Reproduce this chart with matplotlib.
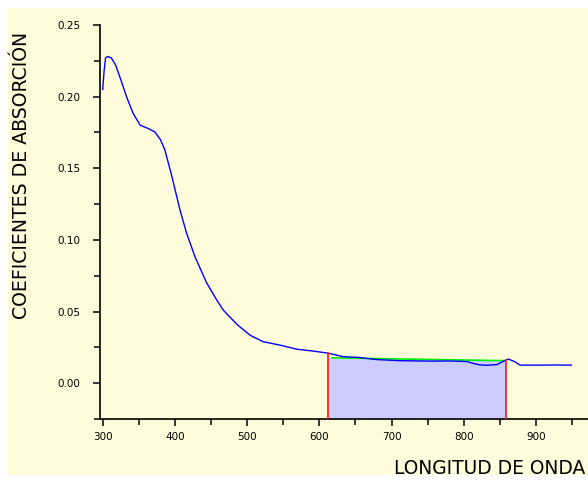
import numpy as np
import matplotlib
matplotlib.use("Agg")
import matplotlib.pyplot as plt
from matplotlib.ticker import MultipleLocator, FormatStrFormatter
from matplotlib.patches import Rectangle

# Data
wavelength = [300, 302, 304, 307, 312, 318, 325, 333, 342, 352, 362, 372, 380, 386,
              395, 407, 416, 428, 444, 458, 467, 486, 504, 522, 546, 569, 590, 612,
              633, 654, 679, 712, 740, 758, 780, 795, 805, 813, 822, 832, 846, 855,
              862, 871, 878, 906, 930, 949]
absorption = [0.205, 0.218, 0.227, 0.228, 0.227, 0.222, 0.212, 0.200, 0.1885, 0.180,
              0.178, 0.1755, 0.170, 0.163, 0.146, 0.121, 0.105, 0.088, 0.070, 0.058,
              0.051, 0.041, 0.0335, 0.029, 0.0265, 0.0237, 0.0225, 0.021, 0.0185,
              0.018, 0.0165, 0.0157, 0.0155, 0.0154, 0.0155, 0.0153, 0.015, 0.0138,
              0.0128, 0.0125, 0.013, 0.0154, 0.0168, 0.0149, 0.0126, 0.0126, 0.0127,
              0.0126]
band_limits = [612, 858]
baseline_x = [617, 857]
baseline_y = [0.0177, 0.0157]

xlabel = "LONGITUD DE ONDA"
ylabel = "COEFICIENTES DE ABSORCIÓN"

W, H = 588, 480
fig = plt.figure(figsize=(W / 100, H / 100), dpi=100, facecolor="white")
bg = Rectangle((8 / W, 5 / H), 1, (475 - 8) / H, transform=fig.transFigure,
               facecolor="#fffcdc", edgecolor="none", zorder=-10)
fig.add_artist(bg)

ax = fig.add_axes([100 / W, 61 / H, 488 / W, 394 / H])
ax.set_facecolor("none")
ax.set_zorder(5)
ymin, ymax = -0.025, 0.25
ax.set_xlim(296.3, 972)
ax.set_ylim(ymin, ymax)

# shaded band
bx = np.linspace(band_limits[0], band_limits[1], 50)
by = np.interp(bx, baseline_x, baseline_y)
ax.fill_between(bx, ymin, by, color="#ccccff", lw=0, zorder=1)

ax.plot(wavelength, absorption, color="#0000ff", lw=1.0, zorder=3)
ax.plot(baseline_x, baseline_y, color="#00ee00", lw=1.2, zorder=2)
for xl in band_limits:
    top = np.interp(xl, wavelength, absorption)
    ax.plot([xl, xl], [ymin, top], color="#ff2020", lw=1.3, zorder=4)

for s in ["top", "right"]:
    ax.spines[s].set_visible(False)
for s in ["left", "bottom"]:
    ax.spines[s].set_linewidth(1.2)

ax.xaxis.set_major_locator(MultipleLocator(100))
ax.xaxis.set_minor_locator(MultipleLocator(50))
ax.yaxis.set_major_locator(MultipleLocator(0.05))
ax.yaxis.set_minor_locator(MultipleLocator(0.025))
ax.yaxis.set_major_formatter(FormatStrFormatter("%.2f"))
ax.set_xticks([300, 400, 500, 600, 700, 800, 900])
ax.tick_params(which="major", direction="out", length=5, width=1.1, labelsize=7.5, pad=4)
ax.tick_params(which="minor", direction="out", length=4, width=1.1)
ax.tick_params(axis="y", which="major", pad=9)

fig.text(22 / W, 1 - 175 / H, ylabel, rotation=90, ha="center", va="center", fontsize=13.6)
fig.text(585 / W, 1 - 468 / H, xlabel, ha="right", va="center", fontsize=13.4)

fig.savefig("out.png", dpi=100)
